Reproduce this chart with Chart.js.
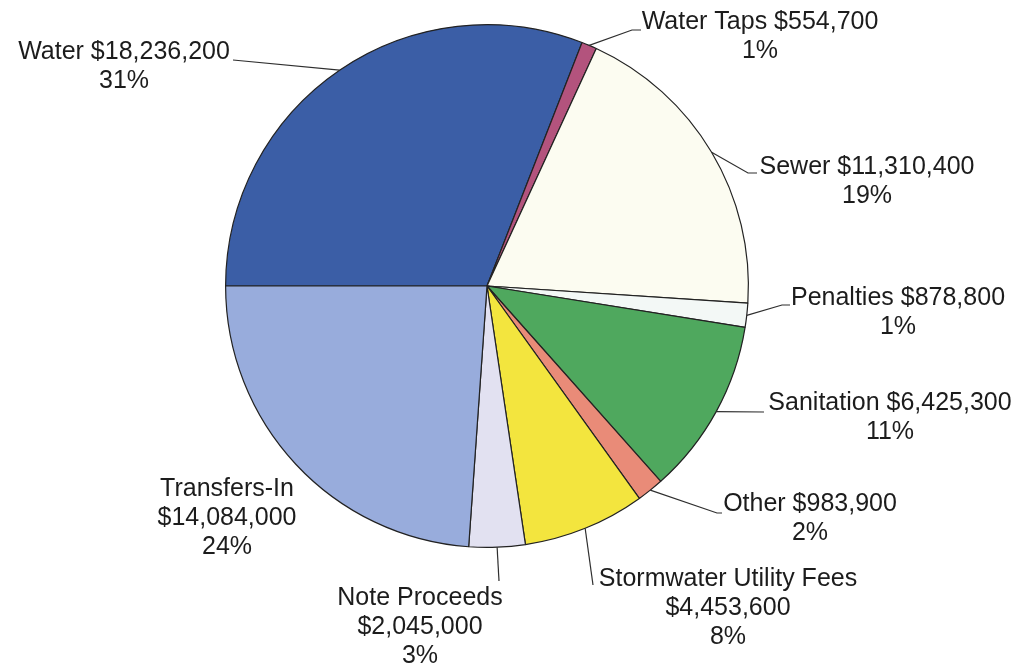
<!DOCTYPE html>
<html>
<head>
<meta charset="utf-8">
<style>
  html, body { margin: 0; padding: 0; background: #ffffff; }
  #wrap { width: 1019px; height: 670px; }
</style>
<script src="https://cdn.jsdelivr.net/npm/chart.js@4/dist/chart.umd.min.js"></script>
</head>
<body>
<div id="wrap"><canvas id="revenuePie" width="1019" height="670"></canvas></div>
<script>
// Revenue sources, in drawing order (clockwise from 9 o'clock)
const categories = [
  "Water", "Water Taps", "Sewer", "Penalties", "Sanitation",
  "Other", "Stormwater Utility Fees", "Note Proceeds", "Transfers-In"
];
const amounts = [
  18236200, 554700, 11310400, 878800, 6425300,
  983900, 4453600, 2045000, 14084000
];
const percentLabels = ["31%", "1%", "19%", "1%", "11%", "2%", "8%", "3%", "24%"];

const sliceColors = [
  "#3b5ea6", "#b3537d", "#fcfcf1", "#f3f8f6", "#4fa85e",
  "#e98b78", "#f3e53e", "#e2e1f1", "#98acdc"
];

// label layout: text lines, text centre x, first line y, leader path after the slice edge
const labelLayout = [
  { lines: ["Water $18,236,200", "31%"], x: 124, y: 52, path: [[233, 60]] },
  { lines: ["Water Taps $554,700", "1%"], x: 760, y: 22, path: [[632, 30], [641, 30]] },
  { lines: ["Sewer $11,310,400", "19%"], x: 867, y: 167, path: [[748, 173], [757, 173]] },
  { lines: ["Penalties $878,800", "1%"], x: 898, y: 298, path: [[782, 305], [790, 305]] },
  { lines: ["Sanitation $6,425,300", "11%"], x: 890, y: 403, path: [[764, 412]] },
  { lines: ["Other $983,900", "2%"], x: 810, y: 504, path: [[717, 513], [722, 513]] },
  { lines: ["Stormwater Utility Fees", "$4,453,600", "8%"], x: 728, y: 579, path: [[593, 585]] },
  { lines: ["Note Proceeds", "$2,045,000", "3%"], x: 420, y: 598, path: [[499, 581]] },
  { lines: ["Transfers-In", "$14,084,000", "24%"], x: 227, y: 489, path: null }
];

const labelPlugin = {
  id: "sliceLabels",
  afterDraw(chart) {
    const ctx = chart.ctx;
    const arcs = chart.getDatasetMeta(0).data;
    ctx.save();
    // leader lines
    ctx.strokeStyle = "#2e2e2e";
    ctx.lineWidth = 1.2;
    arcs.forEach((arc, i) => {
      const lay = labelLayout[i];
      if (!lay.path) return;
      const mid = (arc.startAngle + arc.endAngle) / 2;
      const sx = arc.x + Math.cos(mid) * arc.outerRadius;
      const sy = arc.y + Math.sin(mid) * arc.outerRadius;
      ctx.beginPath();
      ctx.moveTo(sx, sy);
      lay.path.forEach(p => ctx.lineTo(p[0], p[1]));
      ctx.stroke();
    });
    // texts
    ctx.fillStyle = "#1c1c1c";
    ctx.font = '25px "Liberation Sans", Arial, sans-serif';
    ctx.textAlign = "center";
    ctx.textBaseline = "middle";
    labelLayout.forEach(lay => {
      lay.lines.forEach((t, k) => ctx.fillText(t, lay.x, lay.y + k * 29));
    });
    ctx.restore();
  }
};

new Chart(document.getElementById("revenuePie"), {
  type: "pie",
  data: {
    labels: categories,
    datasets: [
      {
        data: amounts,
        backgroundColor: sliceColors,
        borderColor: "#222222",
        borderWidth: 1.2,
      },
    ],
  },
  options: {
    responsive: false,
    animation: false,
    rotation: -90,
    layout: { padding: { left: 225, right: 270, top: 24, bottom: 122 } },
    plugins: {
      legend: { display: false },
      tooltip: { enabled: false },
    },
  },
  plugins: [labelPlugin],
});
</script>
</body>
</html>
